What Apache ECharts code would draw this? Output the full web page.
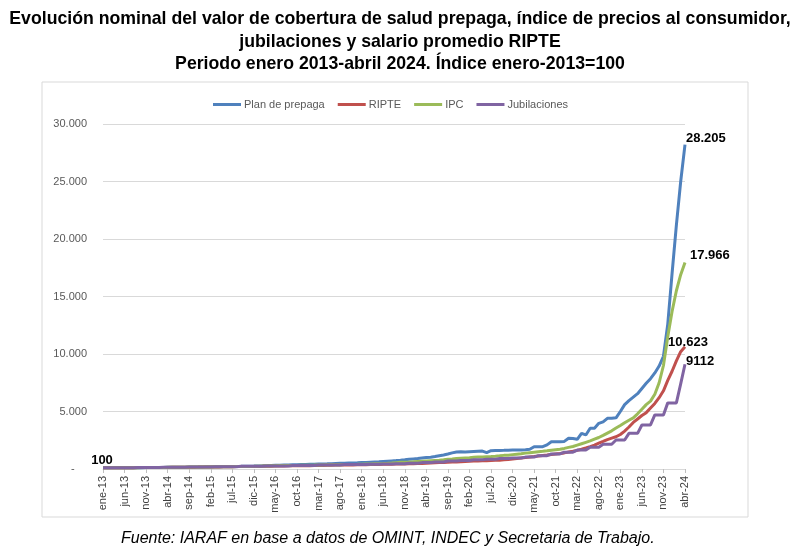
<!DOCTYPE html>
<html>
<head>
<meta charset="utf-8">
<script src="https://cdn.jsdelivr.net/npm/echarts@6/dist/echarts.min.js"></script>
<style>
  html, body { margin: 0; padding: 0; background: #fff; }
  #chart { width: 800px; height: 559px; }
</style>
</head>
<body>
<div id="chart"></div>
<script>
// meses y años del eje x (ene-13 ... abr-24)
var meses = ['ene', 'feb', 'mar', 'abr', 'may', 'jun', 'jul', 'ago', 'sep', 'oct', 'nov', 'dic'];
var anios = ['13', '14', '15', '16', '17', '18', '19', '20', '21', '22', '23', '24'];
var mesesUltimoAnio = 4;

var categorias = [];
anios.forEach(function (a, k) {
    var n = (k === anios.length - 1) ? mesesUltimoAnio : 12;
    for (var m = 0; m < n; m++) categorias.push(meses[m] + '-' + a);
});

// indices, enero-2013 = 100
var prepaga = [
    100, 100, 102, 104, 106, 108, 110, 112, 114, 117, 120, 123,
    127, 132, 137, 142, 147, 152, 157, 162, 167, 172, 177, 182,
    187, 192, 197, 203, 209, 215, 221, 227, 233, 240, 247, 255,
    265, 278, 292, 306, 320, 334, 345, 355, 365, 375, 385, 395,
    405, 415, 428, 440, 452, 465, 478, 490, 502, 515, 528, 540,
    555, 570, 590, 610, 630, 655, 680, 705, 730, 760, 800, 850,
    880, 910, 950, 990, 1030, 1080, 1150, 1220, 1300, 1400, 1480, 1490,
    1480, 1500, 1520, 1540, 1560, 1430, 1590, 1600, 1610, 1620, 1640, 1650,
    1650, 1660, 1680, 1720, 1940, 1940, 1940, 2100, 2370, 2370, 2370, 2400,
    2680, 2650, 2580, 3100, 2960, 3540, 3550, 3970, 4100, 4410, 4410, 4450,
    5000, 5600, 5950, 6250, 6550, 7000, 7450, 7850, 8350, 8950, 9800, 12600,
    17000, 21200, 25000, 28205
];
var ripte = [
    100, 101, 103, 105, 107, 111, 116, 118, 120, 122, 124, 127,
    130, 132, 135, 140, 145, 150, 156, 158, 160, 162, 165, 169,
    172, 175, 178, 184, 190, 197, 206, 210, 213, 216, 219, 223,
    226, 230, 235, 243, 250, 258, 268, 272, 276, 280, 283, 286,
    290, 295, 300, 310, 318, 326, 338, 343, 348, 352, 357, 364,
    370, 376, 382, 392, 400, 407, 415, 420, 428, 436, 440, 448,
    456, 468, 480, 500, 520, 535, 555, 570, 590, 605, 618, 640,
    660, 680, 700, 705, 710, 720, 735, 750, 770, 800, 830, 870,
    910, 950, 990, 1040, 1080, 1130, 1180, 1220, 1270, 1310, 1350, 1400,
    1470, 1540, 1620, 1720, 1830, 1950, 2080, 2250, 2400, 2560, 2680, 2800,
    3000, 3300, 3650, 4050, 4350, 4650, 4900, 5300, 5700, 6200, 6800, 7700,
    8500, 9400, 10200, 10623
];
var ipc = [
    100, 102, 104, 106, 108, 110, 113, 115, 117, 120, 122, 125,
    130, 136, 141, 145, 149, 152, 156, 160, 164, 168, 172, 176,
    180, 184, 188, 192, 197, 201, 205, 209, 213, 218, 223, 232,
    243, 253, 262, 277, 288, 297, 302, 303, 306, 314, 320, 325,
    330, 337, 345, 354, 360, 365, 372, 377, 384, 393, 400, 408,
    418, 428, 438, 450, 462, 478, 496, 515, 550, 578, 596, 612,
    630, 655, 680, 705, 728, 750, 768, 800, 846, 875, 911, 945,
    965, 985, 1015, 1035, 1050, 1070, 1090, 1115, 1145, 1185, 1205, 1250,
    1290, 1330, 1380, 1420, 1460, 1500, 1540, 1580, 1630, 1680, 1720, 1790,
    1880, 1960, 2080, 2200, 2320, 2440, 2590, 2740, 2920, 3120, 3320, 3560,
    3780, 4020, 4240, 4450, 4800, 5200, 5600, 5900, 6500, 7500, 9000, 11500,
    13700, 15500, 16900, 17966
];
var jubilaciones = [
    100, 100, 115, 115, 115, 115, 115, 115, 132, 132, 132, 132,
    132, 132, 147, 147, 147, 147, 147, 147, 172, 172, 172, 172,
    172, 172, 203, 203, 203, 203, 203, 203, 229, 229, 229, 229,
    229, 229, 264, 264, 264, 264, 264, 264, 301, 301, 301, 301,
    301, 301, 341, 341, 341, 341, 341, 341, 387, 387, 387, 387,
    387, 387, 409, 409, 409, 432, 432, 432, 461, 461, 461, 497,
    497, 497, 555, 555, 555, 615, 615, 615, 690, 690, 690, 746,
    746, 746, 800, 800, 800, 849, 849, 849, 913, 913, 913, 958,
    958, 958, 1035, 1035, 1035, 1161, 1161, 1161, 1305, 1305, 1305, 1463,
    1463, 1463, 1642, 1642, 1642, 1889, 1889, 1889, 2150, 2150, 2150, 2520,
    2520, 2520, 3100, 3100, 3100, 3830, 3830, 3830, 4700, 4700, 4700, 5750,
    5750, 5750, 7400, 9112
];

var yMax = 30000;
var yPaso = 5000;

var colores = ['#4F81BD', '#C0504D', '#9BBB59', '#8064A2'];
var fuente = 'Liberation Sans';

function miles(v) {
    return String(v).replace(/\B(?=(\d{3})+(?!\d))/g, '.');
}

// pone una etiqueta de dato en un punto concreto
function etiquetar(arr, idx, texto, pos, offset) {
    var d = arr.slice();
    d[idx] = {
        value: typeof arr[idx] === 'object' ? arr[idx].value : arr[idx],
        label: {
            show: true,
            formatter: texto,
            position: pos,
            offset: offset,
            color: '#000',
            fontFamily: fuente,
            fontWeight: 'bold',
            fontSize: 13
        }
    };
    return d;
}

var ult = categorias.length - 1;

// serie de linea sin marcadores visibles (el simbolo minimo lleva la etiqueta)
function serie(nombre, datos) {
    return {
        name: nombre,
        type: 'line',
        symbol: 'circle',
        symbolSize: 0.01,
        showSymbol: true,
        lineStyle: { width: 3 },
        emphasis: { disabled: true },
        data: datos
    };
}

var myChart = echarts.init(document.getElementById('chart'));

var option = {
    animation: false,
    color: colores,
    title: {
        text: 'Evolución nominal del valor de cobertura de salud prepaga, índice de precios al consumidor,\njubilaciones y salario promedio RIPTE\nPeriodo enero 2013-abril 2024. Índice enero-2013=100',
        left: 'center',
        top: 3,
        textStyle: {
            fontFamily: fuente,
            fontSize: 17.7,
            fontWeight: 'bold',
            color: '#000',
            lineHeight: 22.5
        }
    },
    graphic: [{
        type: 'rect',
        shape: { x: 42, y: 82, width: 706, height: 435 },
        style: { fill: 'none', stroke: '#d9d9d9', lineWidth: 1 },
        silent: true
    }, {
        type: 'text',
        left: 121,
        top: 531,
        style: {
            text: 'Fuente: IARAF en base a datos de OMINT, INDEC y Secretaria de Trabajo.',
            fontFamily: fuente,
            fontStyle: 'italic',
            fontSize: 16,
            fill: '#000'
        }
    }],
    legend: {
        top: 94,
        left: 208,
        itemWidth: 28,
        itemHeight: 3,
        itemGap: 13,
        icon: 'rect',
        textStyle: { fontFamily: fuente, fontSize: 11, color: '#595959', padding: [0, 0, 0, -2] },
        data: ['Plan de prepaga', 'RIPTE', 'IPC', 'Jubilaciones']
    },
    grid: {
        left: 103,
        right: 115,
        top: 124,
        bottom: 90,
        containLabel: false
    },
    xAxis: {
        type: 'category',
        boundaryGap: false,
        data: categorias,
        axisLine: { lineStyle: { color: '#d9d9d9' } },
        axisTick: { interval: 4, length: 4, lineStyle: { color: '#bfbfbf' } },
        axisLabel: {
            interval: 4,
            rotate: 90,
            margin: 7,
            fontFamily: fuente,
            fontSize: 11,
            color: '#404040'
        }
    },
    yAxis: {
        type: 'value',
        min: 0,
        max: yMax,
        interval: yPaso,
        axisLine: { show: false },
        axisTick: { show: false },
        splitLine: { lineStyle: { color: '#d9d9d9' } },
        axisLabel: {
            margin: 16,
            fontFamily: fuente,
            fontSize: 11,
            color: '#595959',
            formatter: function (v) { return v === 0 ? '-    ' : miles(v); }
        }
    },
    series: [
        serie('Plan de prepaga',
            etiquetar(etiquetar(prepaga, ult, miles(prepaga[ult]), 'right', [-4, -6]),
                0, String(prepaga[0]), 'top', [-1, 4])),
        serie('RIPTE', etiquetar(ripte, ult, miles(ripte[ult]), 'top', [3, 7])),
        serie('IPC', etiquetar(ipc, ult, miles(ipc[ult]), 'right', [0, -7])),
        serie('Jubilaciones', etiquetar(jubilaciones, ult, String(jubilaciones[ult]), 'right', [-4, -3]))
    ]
};

myChart.setOption(option);
</script>
</body>
</html>
